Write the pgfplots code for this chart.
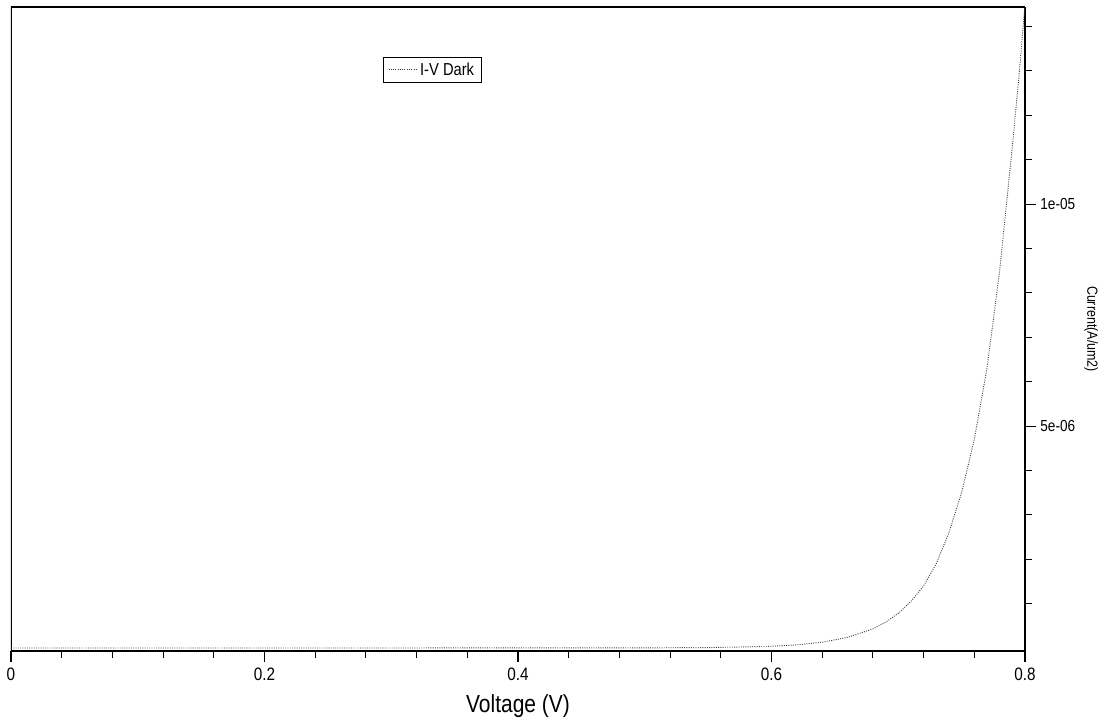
\documentclass[border=0pt]{standalone}
\usepackage{fontspec}
\setmainfont[FakeStretch=0.85]{Liberation Sans}
\usepackage{pgfplots}
\pgfplotsset{compat=1.18}
\begin{document}
\begin{tikzpicture}
\path[use as bounding box] (-8.25pt,-55.5pt) rectangle (821.25pt,488.25pt);
\begin{axis}[
  at={(0,0)}, anchor=south west,
  scale only axis, width=760.5pt, height=483pt,
  xmin=0, xmax=0.8, ymin=-0.0676e-6, ymax=14.44e-6,
  axis line style={line width=0.9pt},
  axis y line*=right,
  axis x line*=bottom,
  tick align=outside,
  major tick length=8pt, minor tick length=5pt,
  tick style={line width=0.8pt, black},
  xtick={0,0.2,0.4,0.6,0.8},
  xticklabels={0,0.2,0.4,0.6,0.8},
  minor xtick={0.04,0.08,0.12,0.16,0.24,0.28,0.32,0.36,0.44,0.48,0.52,0.56,0.64,0.68,0.72,0.76},
  ytick={5e-6,1e-5},
  yticklabels={5e-06,1e-05},
  minor ytick={1e-6,2e-6,3e-6,4e-6,6e-6,7e-6,8e-6,9e-6,11e-6,12e-6,13e-6,14e-6},
  scaled y ticks=false,
  xticklabel style={font=\fontsize{13.5}{14}\selectfont, yshift=-1pt},
  yticklabel style={font=\fontsize{12}{13}\selectfont},
  xlabel={Voltage (V)},
  xlabel style={font=\fontsize{18.5}{20}\selectfont, yshift=-4pt},
  ylabel={Current(A/um2)},
  ylabel style={font=\fontsize{11}{12}\selectfont, rotate=180},
  legend style={at={(0.3669,0.9224)}, anchor=north west, draw=black, line width=0.7pt,
    font=\fontsize{13}{13.5}\selectfont, inner xsep=3.5pt, inner ysep=1.8pt, row sep=0pt},
  legend cell align=left,
  legend image code/.code={\draw[#1, line width=0.6pt] (0cm,0cm) -- (0.75cm,0cm);},
  clip=true,
]
\draw[line width=0.9pt] (rel axis cs:0,0) -- (rel axis cs:0,1) -- (rel axis cs:1,1);
\addplot[black!75, densely dotted, line width=0.7pt] coordinates {
(0,0) (0.3,0.0005e-6) (0.5,0.003e-6) (0.55,0.01e-6) (0.58,0.025e-6) (0.6,0.04e-6)
(0.62,0.07e-6) (0.64,0.13e-6) (0.66,0.24e-6) (0.68,0.43e-6) (0.69,0.58e-6)
(0.70,0.78e-6) (0.71,1.05e-6) (0.72,1.4e-6) (0.73,1.9e-6) (0.74,2.6e-6)
(0.75,3.5e-6) (0.76,4.7e-6) (0.77,6.3e-6) (0.78,8.5e-6) (0.785,9.9e-6)
(0.79,11.3e-6) (0.795,12.8e-6) (0.80,14.5e-6)
};
\addlegendentry{I-V Dark}
\end{axis}
\end{tikzpicture}
\end{document}
